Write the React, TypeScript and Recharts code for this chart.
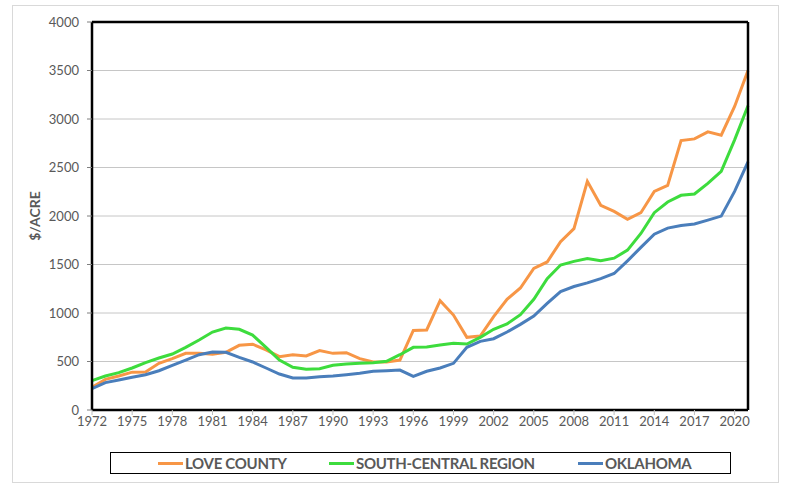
import React from 'react';
import {
  LineChart,
  Line,
  XAxis,
  YAxis,
  CartesianGrid,
} from 'recharts';

const years = [
  1972, 1973, 1974, 1975, 1976, 1977, 1978, 1979, 1980, 1981,
  1982, 1983, 1984, 1985, 1986, 1987, 1988, 1989, 1990, 1991,
  1992, 1993, 1994, 1995, 1996, 1997, 1998, 1999, 2000, 2001,
  2002, 2003, 2004, 2005, 2006, 2007, 2008, 2009, 2010, 2011,
  2012, 2013, 2014, 2015, 2016, 2017, 2018, 2019, 2020, 2021,
];

const loveCounty = [
  235, 316, 350, 390, 392, 481, 529, 584, 584, 576,
  595, 667, 678, 619, 550, 570, 557, 612, 584, 591,
  529, 495, 495, 515, 820, 825, 1127, 979, 749, 763,
  962, 1141, 1258, 1460, 1526, 1735, 1870, 2357, 2110, 2047,
  1965, 2034, 2254, 2316, 2778, 2795, 2867, 2833, 3129, 3500,
];

const southCentral = [
  302, 350, 385, 433, 488, 536, 577, 646, 722, 804,
  845, 832, 772, 646, 515, 440, 419, 426, 461, 474,
  481, 488, 502, 570, 646, 650, 670, 687, 680, 749,
  832, 887, 983, 1141, 1354, 1495, 1532, 1562, 1538, 1565,
  1648, 1820, 2034, 2144, 2213, 2227, 2337, 2461, 2785, 3136,
];

const oklahoma = [
  220, 282, 309, 337, 364, 405, 461, 515, 570, 598,
  595, 543, 495, 433, 371, 330, 330, 343, 350, 364,
  378, 399, 405, 412, 346, 399, 433, 481, 646, 708,
  735, 804, 883, 969, 1100, 1220, 1273, 1311, 1355, 1407,
  1538, 1676, 1813, 1875, 1903, 1917, 1958, 1999, 2254, 2557,
];

const yTicks = [0, 500, 1000, 1500, 2000, 2500, 3000, 3500, 4000];

const seriesNames = ['LOVE COUNTY', 'SOUTH-CENTRAL REGION', 'OKLAHOMA'];
const seriesKeys = ['love', 'region', 'okla'];
const seriesColors = ['#f79646', '#3ddc3d', '#4a7ebb'];

const data = years.map((year, i) => ({
  year,
  love: loveCounty[i],
  region: southCentral[i],
  okla: oklahoma[i],
}));

const FONT = 'Lato, "Liberation Sans", sans-serif';

// left edge of each legend line icon, inside the legend box
const legendOffsets = [47, 218, 467];

function BoxLegend() {
  return (
    <div
      style={{
        position: 'absolute',
        left: 110,
        top: 452,
        width: 619,
        height: 20,
        border: '1px solid #000',
        fontFamily: FONT,
      }}
    >
      {seriesNames.map((name, i) => (
        <div
          key={name}
          style={{
            position: 'absolute',
            left: legendOffsets[i],
            top: 0,
            height: 20,
            display: 'flex',
            alignItems: 'center',
            whiteSpace: 'nowrap',
          }}
        >
          <span style={{ display: 'inline-block', width: 25, height: 3, background: seriesColors[i] }} />
          <span
            style={{
              marginLeft: 2,
              fontSize: 15,
              fontWeight: 700,
              color: '#595959',
              letterSpacing: -0.3,
            }}
          >
            {name}
          </span>
        </div>
      ))}
    </div>
  );
}

export default function App() {
  return (
    <div style={{ position: 'absolute', left: 0, top: 0, width: 786, height: 497, background: '#fff' }}>
      {/* light outer frame */}
      <div
        style={{
          position: 'absolute',
          left: 12,
          top: 5,
          width: 765,
          height: 476,
          border: '1px solid #d9d9d9',
        }}
      />
      <LineChart
        width={786}
        height={497}
        data={data}
        margin={{ top: 21, right: 37, left: 0, bottom: 57 }}
        style={{ fontFamily: FONT }}
      >
        <CartesianGrid vertical={false} stroke="#c6c6c6" strokeWidth={1} />
        <XAxis
          dataKey="year"
          interval={2}
          height={30}
          tickSize={5}
          tick={{ fill: '#595959', fontSize: 13, fontFamily: FONT }}
          tickLine={{ stroke: '#bfbfbf' }}
          axisLine={{ stroke: '#000', strokeWidth: 2.5 }}
        />
        {/* top and right edges of the black plot frame */}
        <XAxis
          xAxisId="top"
          dataKey="year"
          orientation="top"
          height={1}
          tick={false}
          tickLine={false}
          axisLine={{ stroke: '#000', strokeWidth: 2.5 }}
        />
        <YAxis
          yAxisId="right"
          orientation="right"
          width={1}
          domain={[0, 4000]}
          tick={false}
          tickLine={false}
          axisLine={{ stroke: '#000', strokeWidth: 2.5 }}
        />
        <YAxis
          width={92}
          domain={[0, 4000]}
          ticks={yTicks}
          tickSize={5}
          tickMargin={8}
          tick={{ fill: '#595959', fontSize: 13, fontFamily: FONT }}
          tickLine={{ stroke: '#7f7f7f' }}
          axisLine={{ stroke: '#000', strokeWidth: 2.5 }}
          label={{
            value: '$/ACRE',
            angle: -90,
            position: 'insideLeft',
            offset: 35,
            style: { fill: '#595959', fontSize: 14, fontWeight: 700, fontFamily: FONT, textAnchor: 'middle' },
          }}
        />
        {seriesKeys.map((k, i) => (
          <Line
            key={k}
            name={seriesNames[i]}
            dataKey={k}
            stroke={seriesColors[i]}
            strokeWidth={3}
            dot={false}
            isAnimationActive={false}
          />
        ))}
      </LineChart>
      <BoxLegend />
    </div>
  );
}
